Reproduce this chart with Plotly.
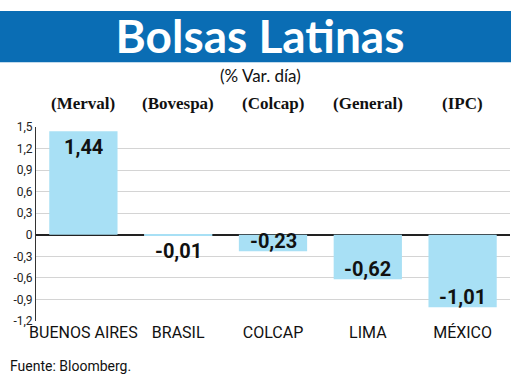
import plotly.graph_objects as go

categories = ["BUENOS AIRES", "BRASIL", "COLCAP", "LIMA", "MÉXICO"]
indices = ["(Merval)", "(Bovespa)", "(Colcap)", "(General)", "(IPC)"]
values = [1.44, -0.01, -0.23, -0.62, -1.01]
tick_vals = [1.5, 1.2, 0.9, 0.6, 0.3, 0, -0.3, -0.6, -0.9, -1.2]
tick_text = ["1,5", "1,2", "0,9", "0,6", "0,3", "0", "-0,3", "-0,6", "-0,9", "-1,2"]

cond = "Roboto, Liberation Sans, sans-serif"

fig = go.Figure()
fig.add_trace(go.Bar(x=categories, y=values, marker_color="#a8e0f5",
                     marker_line_width=0, width=0.72, hoverinfo="skip"))

fmt = lambda v: f"{v:.2f}".replace(".", ",")
for c, v in zip(categories, values):
    if v > 0:
        anchor, shift = "top", -2
    elif abs(v) < 0.1:
        anchor, shift = "top", -1
    else:
        anchor, shift = "bottom", -4
    fig.add_annotation(x=c, y=v, text=f"<b>{fmt(v)}</b>", showarrow=False,
                       yanchor=anchor, yshift=shift,
                       font=dict(family=cond, size=20, color="#111"))

for c, t in zip(categories, indices):
    fig.add_annotation(x=c, y=1, yref="paper", text=f"<b>{t}</b>", showarrow=False,
                       yanchor="middle", yshift=127 - 103,
                       font=dict(family="Liberation Serif, serif", size=17, color="#111"))

# banner
fig.add_shape(type="rect", xref="paper", yref="paper", x0=-36/474, x1=(511-36)/474,
              y0=(385-64-63)/193.4, y1=(385-64-12)/193.4, fillcolor="#0a6db4",
              line_width=0, layer="below")

fig.update_layout(
    width=520, height=385,
    margin=dict(l=36, r=10, t=127, b=64),
    paper_bgcolor="white", plot_bgcolor="white",
    showlegend=False,
    title=dict(text="<b>Bolsas Latinas</b>", x=0.5, xanchor="center",
               y=1 - 37/385, yanchor="middle",
               font=dict(family="Lato, Open Sans, sans-serif", size=46, color="white")),
    xaxis=dict(showgrid=False, showline=False, ticks="",
               tickfont=dict(family=cond, size=16, color="#111")),
    yaxis=dict(range=[-1.2, 1.5], tickvals=tick_vals, ticktext=tick_text,
               showgrid=True, gridcolor="#d4d4d4", gridwidth=1,
               zeroline=True, zerolinecolor="#222", zerolinewidth=2,
               showline=True, linecolor="#333", linewidth=1, ticks="",
               tickfont=dict(family=cond, size=12, color="#222")),
)
fig.add_annotation(text="(% Var. día)", xref="paper", yref="paper", x=(260-36)/474,
                   y=1, yshift=127-75, showarrow=False, yanchor="middle",
                   font=dict(family="Lato, sans-serif", size=17, color="#111"))
fig.add_annotation(text="Fuente: Bloomberg.", xref="paper", yref="paper", x=-28/474,
                   xanchor="left", y=0, yshift=-(366-321), showarrow=False, yanchor="middle",
                   font=dict(family=cond, size=14, color="#111"))

fig.write_html("out.html")
